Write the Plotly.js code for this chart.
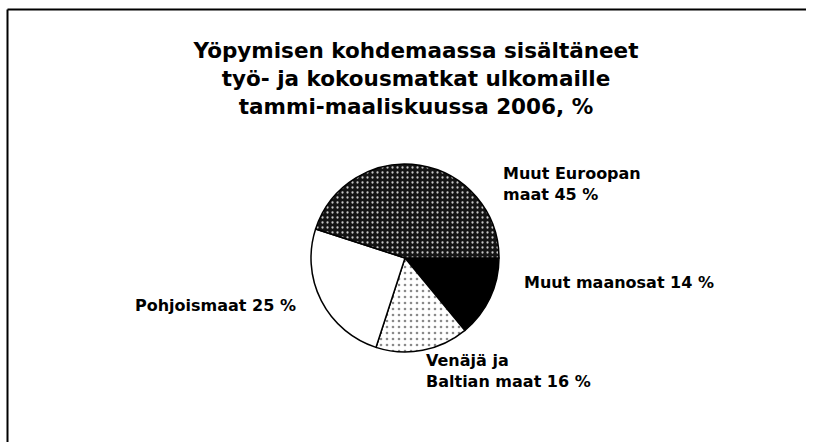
<!DOCTYPE html>
<html>
<head>
<meta charset="utf-8">
<script src="https://cdn.plot.ly/plotly-3.0.1.min.js"></script>
<style>html,body{margin:0;padding:0;background:#fff;overflow:hidden;}#chart{width:817px;height:442px;}</style>
</head>
<body>
<div id="chart"></div>
<script>
// Data (clockwise from 3 o'clock)
const categories = ["Muut maanosat", "Venäjä ja<br>Baltian maat", "Pohjoismaat", "Muut Euroopan<br>maat"];
const values = [14, 16, 25, 45];
const titleLines = ["Yöpymisen kohdemaassa sisältäneet", "työ- ja kokousmatkat ulkomaille", "tammi-maaliskuussa 2006, %"];

const W = 817, H = 442;
const px = x => x / W;
const py = y => 1 - y / H;

const FONT = "DejaVu Sans, Liberation Sans, Arial, sans-serif";

const trace = {
  type: "pie",
  labels: categories,
  values: values,
  sort: false,
  direction: "clockwise",
  rotation: 90,
  textinfo: "none",
  hoverinfo: "none",
  domain: {x: [px(405 - 94), px(405 + 94)], y: [py(258 + 94), py(258 - 94)]},
  marker: {
    colors: ["#000000", "#ffffff", "#ffffff", "#161616"],
    line: {color: "#000000", width: 1.5},
    pattern: {
      shape: ["", ".", "", "."],
      bgcolor: ["#000000", "#ffffff", "#ffffff", "#141414"],
      fgcolor: ["#000000", "#8a8a8a", "#ffffff", "#c8c8c8"],
      size: [6, 6, 6, 5],
      solidity: [0.2, 0.15, 0.2, 0.16]
    }
  }
};

// label placement (pixel positions of each label block)
const labelPos = [
  {x: 522, y: 282},
  {x: 424, y: 371},
  {x: 298, y: 305, anchor: "right"},
  {x: 501, y: 184}
];

const annotations = categories.map((c, i) => ({
  xref: "paper", yref: "paper",
  x: px(labelPos[i].x), y: py(labelPos[i].y),
  xanchor: labelPos[i].anchor || "left", yanchor: "middle",
  align: "left",
  showarrow: false,
  text: "<b>" + c + " " + values[i] + " %</b>",
  font: {family: FONT, size: 16, color: "#000"}
}));

const layout = {
  width: W, height: H,
  margin: {l: 0, r: 0, t: 0, b: 0},
  paper_bgcolor: "#ffffff",
  showlegend: false,
  hovermode: false,
  title: {
    text: "<b>" + titleLines.join("<br>") + "</b>",
    font: {family: FONT, size: 21.5, color: "#000"},
    x: px(416), xanchor: "center", xref: "paper",
    y: py(58), yanchor: "top", yref: "container"
  },
  annotations: annotations,
  shapes: [
    {type: "line", xref: "paper", yref: "paper", x0: px(7.5), x1: px(806), y0: py(9.5), y1: py(9.5), line: {color: "#000", width: 2}},
    {type: "line", xref: "paper", yref: "paper", x0: px(7.5), x1: px(7.5), y0: py(9.5), y1: 0, line: {color: "#000", width: 2}}
  ]
};

Plotly.newPlot("chart", [trace], layout, {staticPlot: true, displayModeBar: false});
</script>
</body>
</html>
